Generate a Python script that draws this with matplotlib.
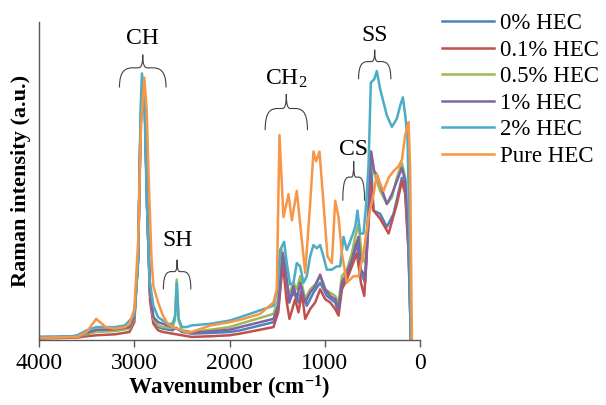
import numpy as np
import matplotlib
matplotlib.use("Agg")
import matplotlib.pyplot as plt
from matplotlib.path import Path
from matplotlib.patches import PathPatch

plt.rcParams['font.family'] = ['Liberation Serif', 'DejaVu Serif']
plt.rcParams['mathtext.fontset'] = 'custom'
plt.rcParams['mathtext.rm'] = 'Liberation Serif'
plt.rcParams['mathtext.it'] = 'Liberation Serif:italic'
plt.rcParams['mathtext.bf'] = 'Liberation Serif:bold'

# spectra: (wavenumber, intensity a.u.)
hec_0 = np.array([
    (4000, 10), (3600, 12), (3500, 20), (3400, 28), (3200, 30), (3050, 38), (3000, 68),
    (2960, 250), (2935, 650), (2910, 785), (2890, 720), (2865, 400), (2835, 140), (2800, 60),
    (2750, 40), (2700, 35), (2600, 30), (2560, 38), (2500, 25), (2400, 20), (2200, 22),
    (2000, 25), (1890, 30), (1540, 55), (1490, 95), (1442, 255), (1382, 115), (1330, 145),
    (1277, 115), (1242, 155), (1190, 105), (1120, 145), (1050, 175), (980, 135), (892, 115),
    (857, 85), (822, 165), (770, 195), (717, 235), (665, 295), (622, 205), (577, 175),
    (542, 375), (515, 535), (490, 395), (420, 385), (350, 345), (280, 385), (192, 495),
    (157, 455), (122, 275), (98, 5)])

hec_01 = np.array([
    (4000, 5), (3600, 8), (3500, 12), (3400, 15), (3200, 18), (3050, 25), (3000, 55),
    (2960, 250), (2935, 650), (2910, 780), (2890, 720), (2865, 400), (2835, 120), (2800, 50),
    (2750, 30), (2700, 25), (2600, 20), (2500, 15), (2400, 10), (2200, 12), (2000, 15),
    (1890, 20), (1540, 40), (1490, 85), (1442, 235), (1400, 115), (1372, 65), (1312, 125),
    (1277, 85), (1242, 145), (1207, 65), (1155, 95), (1102, 115), (1050, 155), (997, 125),
    (945, 115), (892, 95), (857, 75), (822, 155), (770, 185), (717, 225), (665, 265),
    (622, 175), (587, 135), (542, 355), (518, 485), (490, 395), (420, 370), (332, 325),
    (245, 415), (192, 485), (157, 445), (122, 265), (98, 5)])

hec_05 = np.array([
    (4000, 8), (3600, 10), (3500, 18), (3400, 25), (3200, 28), (3050, 35), (3000, 65),
    (2960, 250), (2935, 650), (2910, 790), (2890, 720), (2865, 400), (2835, 150), (2800, 65),
    (2750, 45), (2700, 40), (2600, 38), (2575, 60), (2555, 185), (2535, 60), (2500, 30),
    (2400, 25), (2200, 32), (2000, 40), (1890, 50), (1540, 80), (1490, 125), (1452, 275),
    (1417, 235), (1382, 135), (1330, 175), (1295, 155), (1260, 195), (1207, 125), (1155, 155),
    (1102, 170), (1050, 195), (997, 155), (945, 145), (892, 135), (857, 115), (822, 195),
    (770, 215), (717, 265), (682, 315), (647, 355), (612, 255), (577, 235), (542, 415),
    (518, 575), (490, 515), (455, 485), (420, 455), (350, 415), (297, 435), (245, 495),
    (192, 540), (157, 495), (122, 315), (98, 5)])

hec_1 = np.array([
    (4000, 8), (3600, 10), (3500, 22), (3400, 32), (3200, 33), (3050, 40), (3000, 70),
    (2960, 250), (2935, 650), (2910, 795), (2890, 720), (2865, 400), (2835, 150), (2800, 70),
    (2750, 55), (2700, 50), (2600, 40), (2500, 28), (2400, 22), (2200, 27), (2000, 32),
    (1890, 40), (1540, 65), (1490, 105), (1442, 265), (1400, 185), (1372, 115), (1330, 165),
    (1295, 125), (1260, 175), (1207, 115), (1155, 145), (1102, 165), (1050, 200), (997, 155),
    (945, 135), (892, 125), (857, 95), (822, 175), (770, 205), (717, 245), (682, 285),
    (647, 315), (622, 215), (577, 195), (542, 395), (515, 575), (483, 515), (455, 505),
    (420, 475), (350, 415), (297, 445), (245, 485), (192, 525), (157, 485), (122, 295),
    (98, 5)])

hec_2 = np.array([
    (4000, 10), (3700, 10), (3600, 15), (3500, 30), (3400, 40), (3200, 40), (3100, 45),
    (3000, 75), (2960, 235), (2935, 700), (2920, 813), (2895, 735), (2870, 435), (2840, 185),
    (2800, 105), (2750, 70), (2700, 60), (2650, 50), (2600, 50), (2570, 75), (2555, 175),
    (2535, 65), (2500, 40), (2450, 40), (2400, 45), (2200, 50), (2000, 60), (1890, 70),
    (1540, 105), (1505, 145), (1470, 275), (1428, 300), (1400, 235), (1365, 170), (1330, 175),
    (1295, 235), (1260, 225), (1225, 175), (1190, 195), (1155, 255), (1120, 290), (1085, 280),
    (1050, 290), (1015, 255), (980, 215), (927, 215), (875, 225), (840, 225), (805, 315),
    (770, 275), (717, 315), (682, 345), (658, 395), (630, 325), (595, 325), (567, 415),
    (542, 535), (518, 785), (483, 795), (455, 820), (420, 765), (385, 725), (350, 685),
    (297, 650), (245, 675), (210, 715), (182, 740), (157, 685), (133, 615), (112, 315),
    (98, 5)])

pure_hec = np.array([
    (4000, 7), (3600, 10), (3500, 25), (3400, 65), (3300, 40), (3200, 35), (3100, 40),
    (3050, 50), (3000, 95), (2960, 300), (2930, 650), (2895, 800), (2870, 700), (2850, 500),
    (2820, 250), (2800, 165), (2750, 115), (2700, 75), (2650, 50), (2600, 40), (2550, 35),
    (2500, 30), (2450, 23), (2400, 25), (2300, 35), (2200, 45), (2000, 55), (1890, 62),
    (1680, 80), (1540, 115), (1505, 155), (1477, 625), (1435, 375), (1382, 445), (1347, 365),
    (1295, 455), (1260, 355), (1207, 205), (1155, 415), (1120, 575), (1092, 545), (1057, 575),
    (1022, 445), (973, 255), (927, 235), (892, 425), (857, 375), (822, 265), (770, 175),
    (700, 195), (647, 195), (595, 265), (542, 375), (490, 445), (455, 505), (420, 475),
    (385, 455), (332, 495), (280, 515), (227, 530), (192, 550), (157, 625), (122, 665),
    (105, 515), (87, 5)])

series = [hec_0, hec_01, hec_05, hec_1, hec_2, pure_hec]
labels = ['0% HEC', '0.1% HEC', '0.5% HEC', '1% HEC', '2% HEC', 'Pure HEC']
colors = ['#4F81BD', '#C0504D', '#9BBB59', '#8064A2', '#4BACC6', '#F79646']

# band labels: text, brace left/right wavenumber, brace end/tip height, text height
bands = [
    ('CH', 3156, 2667, 770, 870, 920),
    ('SH', 2695, 2407, 155, 245, 305),
    ('CH$_2$', 1627, 1183, 640, 750, 795),
    ('CS', 812, 584, 425, 545, 580),
    ('SS', 647, 308, 795, 885, 927),
]


def draw_brace(ax, x0, x1, y0, y1):
    """curly brace lying on its side, point up"""
    pts = [(0, 0), (0.0, 0.55), (0.15, 0.6), (0.3, 0.6), (0.4, 0.6),
           (0.47, 0.6), (0.5, 0.7), (0.5, 1.0),
           (0.5, 0.7), (0.53, 0.6), (0.6, 0.6), (0.7, 0.6),
           (0.85, 0.6), (1.0, 0.55), (1.0, 0.0)]
    codes = [Path.MOVETO, Path.CURVE4, Path.CURVE4, Path.CURVE4, Path.LINETO,
             Path.CURVE4, Path.CURVE4, Path.CURVE4,
             Path.CURVE4, Path.CURVE4, Path.CURVE4, Path.LINETO,
             Path.CURVE4, Path.CURVE4, Path.CURVE4]
    verts = [(x0 + u * (x1 - x0), y0 + v * (y1 - y0)) for u, v in pts]
    ax.add_patch(PathPatch(Path(verts, codes), fill=False, edgecolor='#404040',
                           lw=0.8, clip_on=False))


fig = plt.figure(figsize=(6.06, 4.05), dpi=100)
ax = fig.add_axes([0.0644, 0.16, 0.629, 0.786])

for data, lab, col in zip(series, labels, colors):
    ax.plot(data[:, 0], data[:, 1], color=col, lw=1.8, label=lab)

for name, xa, xb, yend, ytip, ytxt in bands:
    draw_brace(ax, xa, xb, yend, ytip)
    ax.text((xa + xb) / 2, ytxt, name, fontsize=17, ha='center', va='center')

ax.set_xlim(4000, 0)
ax.set_ylim(0, 970)
ax.set_xticks([4000, 3000, 2000, 1000, 0])
ax.set_yticks([])
ax.tick_params(axis='x', direction='out', length=5, width=1, color='#595959',
               labelsize=17, pad=4)
for s in ['top', 'right']:
    ax.spines[s].set_visible(False)
for s in ['left', 'bottom']:
    ax.spines[s].set_color('#595959')
    ax.spines[s].set_linewidth(1)

ax.set_xlabel(r'Wavenumber (cm$^{\mathbf{-1}}$)', fontsize=16.5, fontweight='bold', labelpad=0)
ax.set_ylabel('Raman intensity (a.u.)', fontsize=16, fontweight='bold', labelpad=6)

fig.legend(loc='upper left', bbox_to_anchor=(0.729, 0.968), frameon=False,
           fontsize=16.5, handlelength=2.3, handletextpad=0.25, labelspacing=0.24,
           borderpad=0, borderaxespad=0)

fig.savefig('out.png', dpi=100)
